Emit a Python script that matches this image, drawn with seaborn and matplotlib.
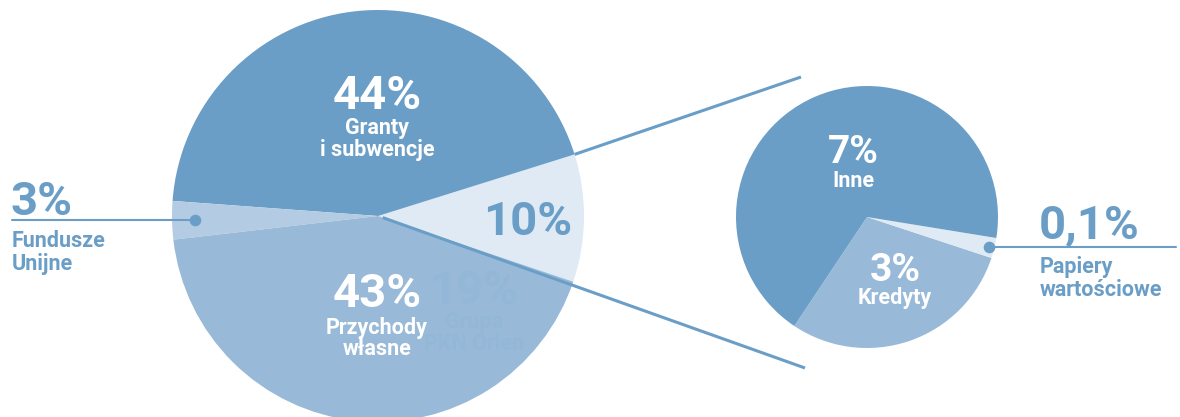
import numpy as np
import matplotlib
matplotlib.use("Agg")
import matplotlib.pyplot as plt
import seaborn as sns

# --- dane ---
big_labels = ["10%", "Granty\ni subwencje", "Fundusze\nUnijne", "Przychody\nwłasne"]
big_values = [10, 44, 3, 43]
small_labels = ["Kredyty", "Papiery\nwartościowe", "Inne"]
small_values = [3, 0.1, 7]
# udzial kawalkow (0,1% jest pogrubione)
small_shares = [29.3, 2.5, 68.2]

sns.set_theme(style="white")
plt.rcParams["font.family"] = ["Roboto", "DejaVu Sans"]

dark = "#6a9ec7"
mid = "#98bad8"
light = "#dfeaf4"
fund = "#b3cce3"
ghost = "#93b7d7"

W, H = 1180, 417
fig = plt.figure(figsize=(W / 100, H / 100), dpi=100)
ax = fig.add_axes([0, 0, 1, 1])
ax.set_xlim(0, W)
ax.set_ylim(0, H)
ax.axis("off")


def py(y):
    # wspolrzedne pikselowe (od gory) -> wspolrzedne danych
    return H - y


# --- duzy wykres ---
bc = (378, py(216))
br = 206
big_wedges, _ = ax.pie(big_values, colors=[light, dark, fund, mid], startangle=-18.6,
                       counterclock=True, center=bc, radius=br,
                       wedgeprops=dict(linewidth=0), frame=False)

# --- maly wykres ---
sc = (867, py(217))
sr = 131
small_wedges, _ = ax.pie(small_shares, colors=[mid, light, dark], startangle=-123.7,
                         counterclock=True, center=sc, radius=sr,
                         wedgeprops=dict(linewidth=0), frame=False)
ax.set_xlim(0, W)
ax.set_ylim(0, H)
ax.set_aspect("equal")

# --- linie laczace ---
w10 = big_wedges[0]
t1, t2 = np.radians(w10.theta1), np.radians(w10.theta2)
ax.plot([bc[0] + br * np.cos(t2), 801], [bc[1] + br * np.sin(t2), py(77)],
        color=dark, lw=2.2, solid_capstyle="butt")
ax.plot([bc[0] + 5 * np.cos(t1), 805], [bc[1] + 5 * np.sin(t1), py(368)],
        color=dark, lw=2.2, solid_capstyle="butt")

# kropka i linia: Fundusze Unijne
wf = big_wedges[2]
tf = np.radians((wf.theta1 + wf.theta2) / 2)
fx, fy = bc[0] + 0.89 * br * np.cos(tf), bc[1] + 0.89 * br * np.sin(tf)
ax.plot([12, fx], [fy, fy], color=dark, lw=1.5)
ax.scatter([fx], [fy], s=70, color=dark, zorder=5, linewidths=0)

# kropka i linia: Papiery wartosciowe
wp = small_wedges[1]
tp = np.radians((wp.theta1 + wp.theta2) / 2)
px_, py_ = sc[0] + 0.955 * sr * np.cos(tp), sc[1] + 0.955 * sr * np.sin(tp)
ax.plot([px_, 1176], [py_, py_], color=dark, lw=1.5)
ax.scatter([px_], [py_], s=70, color=dark, zorder=5, linewidths=0)

big_fs = 34
lab_fs = 15.5
small_big_fs = 28


def txt(x, y, s, size, color="white", ha="center", ls=1.0):
    ax.text(x, py(y), s, fontsize=size, fontweight="bold", color=color,
            ha=ha, va="baseline", linespacing=ls, zorder=6)


# etykiety duzego wykresu
txt(377, 109, f"{big_values[1]}%", big_fs)
txt(377, 134, "Granty", lab_fs)
txt(377, 156, "i subwencje", lab_fs)
txt(377, 307, f"{big_values[3]}%", big_fs)
txt(377, 334, "Przychody", lab_fs)
txt(377, 355, "własne", lab_fs)
txt(528, 235, big_labels[0], big_fs, color=dark)

# niewyrazny napis w tle
txt(474, 304, "19%", big_fs, color=ghost)
txt(474, 328, "Grupa", lab_fs, color=ghost)
txt(474, 350, "PKN Orlen", lab_fs, color=ghost)

# Fundusze Unijne
txt(11, 215, f"{big_values[2]}%", big_fs, color=dark, ha="left")
txt(12, 247, "Fundusze", lab_fs, color=dark, ha="left")
txt(12, 270, "Unijne", lab_fs, color=dark, ha="left")

# etykiety malego wykresu
txt(853, 163, f"{small_values[2]}%", small_big_fs)
txt(853, 187, small_labels[2], lab_fs)
txt(895, 281, f"{small_values[0]}%", small_big_fs)
txt(895, 304, small_labels[0], lab_fs)

txt(1039, 238, f"{small_values[1]}%".replace(".", ","), big_fs, color=dark, ha="left")
txt(1040, 273, "Papiery", lab_fs, color=dark, ha="left")
txt(1040, 296, "wartościowe", lab_fs, color=dark, ha="left")

fig.savefig("out.png", dpi=100, facecolor="white")
